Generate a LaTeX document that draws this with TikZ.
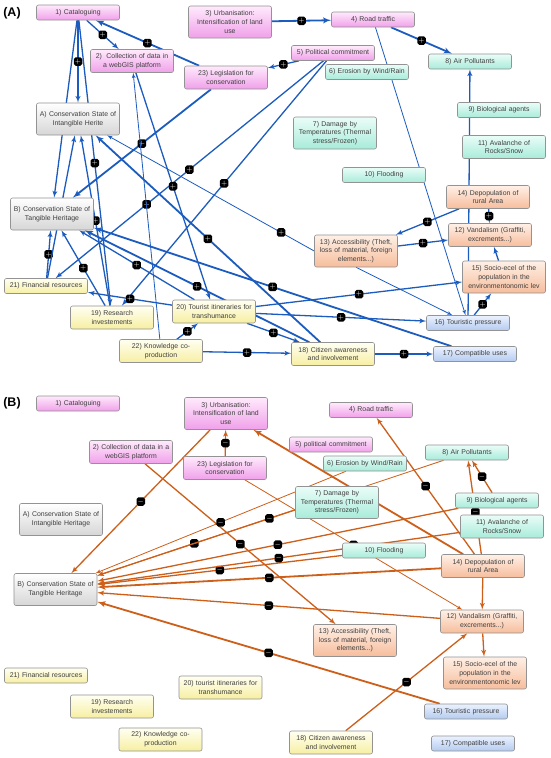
\documentclass[tikz,border=0pt]{standalone}
\usepackage{fontspec}
\setmainfont{Liberation Sans}
\usetikzlibrary{arrows,positioning}
\pgfdeclarelayer{edgelayer}
\pgfsetlayers{edgelayer,main}
\definecolor{bluelink}{RGB}{28,92,190}
\definecolor{orangelink}{RGB}{205,95,25}
\definecolor{pinktop}{HTML}{FFEAFC}
\definecolor{pinkbot}{HTML}{F0A0EA}
\definecolor{tealtop}{HTML}{EAFDF8}
\definecolor{tealbot}{HTML}{A8EBD9}
\definecolor{orangetop}{HTML}{FFF0E6}
\definecolor{orangebot}{HTML}{F6BD9C}
\definecolor{yellowtop}{HTML}{FFFFF2}
\definecolor{yellowbot}{HTML}{F7EFA2}
\definecolor{bluetop}{HTML}{EBF2FF}
\definecolor{bluebot}{HTML}{B4CBEF}
\definecolor{graytop}{HTML}{FFFFFF}
\definecolor{graybot}{HTML}{D6D6D6}
\tikzset{box/.style={draw=gray!85, line width=0.6pt, rounded corners=2pt, text centered, align=center, text width=80pt, inner xsep=1.5pt, inner ysep=2pt, minimum height=15pt, font=\fontsize{6.9}{8.7}\selectfont, text=black!75}}
\tikzset{two/.style={minimum height=23pt}, three/.style={minimum height=32pt}}
\tikzset{pinkbox/.style={box, top color=pinktop, bottom color=pinkbot}}
\tikzset{tealbox/.style={box, top color=tealtop, bottom color=tealbot}}
\tikzset{orangebox/.style={box, top color=orangetop, bottom color=orangebot}}
\tikzset{yellowbox/.style={box, top color=yellowtop, bottom color=yellowbot}}
\tikzset{bluebox/.style={box, top color=bluetop, bottom color=bluebot}}
\tikzset{graybox/.style={box, top color=graytop, bottom color=graybot}}
\tikzset{bline/.style={draw=bluelink, line width=1.3pt, -latex'}}
\tikzset{oline/.style={draw=orangelink, line width=1.3pt, -latex'}}
\tikzset{heavy/.style={line width=1.8pt}, light/.style={line width=0.8pt}}
\tikzset{signbox/.style={fill=black, rounded corners=1.8pt, minimum size=8.5pt, inner sep=0pt, text=white, font=\fontsize{7}{7}\selectfont\bfseries}}
\tikzset{tag/.style={font=\fontsize{12.5}{14}\selectfont\bfseries}}

\begin{document}
\begin{tikzpicture}[x=1pt, y=-1pt]
		\useasboundingbox (0,0) rectangle (550,758);

		% (A)
		\node [tag]						(tagA) at (12,13) {(A)};
		\node [pinkbox]					(a1) at (78,12.5) {1) Cataloguing};
		\node [pinkbox, three]			(a3) at (230,22) {3) Urbanisation:\\Intensification of land\\use};
		\node [pinkbox, two]			(a2) at (132,61) {2)\ \ Collection of data in\\a webGIS platform};
		\node [pinkbox, two]			(a23) at (226,77.5) {23) Legislation for\\conservation};
		\node [graybox, three]			(aA) at (78,119) {A) Conservation State of\\Intangible Herite};
		\node [pinkbox]					(a4) at (373,19.5) {4) Road traffic};
		\node [pinkbox]					(a5) at (333,53) {5) Political commitment};
		\node [tealbox]					(a6) at (367,72) {6) Erosion by Wind/Rain};
		\node [tealbox]					(a8) at (470,61.5) {8) Air Pollutants};
		\node [tealbox]					(a9) at (499,110) {9) Biological agents};
		\node [tealbox, three]			(a7) at (335,133) {7) Damage by\\Temperatures (Thermal\\stress/Frozen)};
		\node [tealbox, two]			(a11) at (504,147) {11) Avalanche of\\Rocks/Snow};
		\node [tealbox]					(a10) at (384,175) {10) Flooding};
		\node [orangebox, two]			(a14) at (488,197) {14) Depopulation of\\rural Area};
		\node [orangebox, two]			(a12) at (490,235) {12) Vandalism (Graffiti,\\excrements...)};
		\node [orangebox, three]		(a13) at (356,251) {13) Accessibility (Theft,\\loss of material, foreign\\elements...)};
		\node [orangebox, three]		(a15) at (504,277) {15) Socio-ecel of the\\population in the\\environmentonomic lev};
		\node [bluebox]					(a16) at (468,323) {16) Touristic pressure};
		\node [bluebox]					(a17) at (475,354) {17) Compatible uses};
		\node [yellowbox, two]			(a18) at (333,354) {18) Citizen awareness\\and involvement};
		\node [graybox, three]			(aB) at (52,214) {B) Conservation State of\\Tangible Heritage};
		\node [yellowbox]				(a21) at (46,286) {21) Financial resources};
		\node [yellowbox, two]			(a19) at (112,317.5) {19) Research\\investements};
		\node [yellowbox, two]			(a20) at (214,311.5) {20) Tourist itineraries for\\transhumance};
		\node [yellowbox, two]			(a22) at (161,351) {22) Knowledge co-\\production};

		% (B)
		\node [tag]						(tagB) at (12,403) {(B)};
		\node [pinkbox]					(b1) at (78,403.5) {1) Cataloguing};
		\node [pinkbox, three]			(b3) at (226,413.5) {3) Urbanisation:\\Intensification of land\\use};
		\node [pinkbox, two]			(b2) at (131,452) {2) Collection of data in a\\webGIS platform};
		\node [pinkbox, two]			(b23) at (225,468) {23) Legislation for\\conservation};
		\node [graybox, three]			(bA) at (61,519.5) {A) Conservation State of\\Intangible Heritage};
		\node [pinkbox]					(b4) at (371,410) {4) Road traffic};
		\node [pinkbox]					(b5) at (331,444.5) {5) political commitment};
		\node [tealbox]					(b6) at (365,463.5) {6) Erosion by Wind/Rain};
		\node [tealbox]					(b8) at (467,452.5) {8) Air Pollutants};
		\node [tealbox, three]			(b7) at (337,502.5) {7) Damage by\\Temperatures (Thermal\\stress/Frozen)};
		\node [tealbox]					(b9) at (497,500.5) {9) Biological agents};
		\node [tealbox, two]			(b11) at (502,526.5) {11) Avalanche of\\Rocks/Snow};
		\node [tealbox]					(b10) at (384,550.5) {10) Flooding};
		\node [orangebox, two]			(b14) at (483,566) {14) Depopulation of\\rural Area};
		\node [orangebox, two]			(b12) at (482,621.5) {12) Vandalism (Graffiti,\\excrements...)};
		\node [orangebox, three]		(b13) at (355,640.5) {13) Accessibility (Theft,\\loss of material, foreign\\elements...)};
		\node [orangebox, three]		(b15) at (485,673) {15) Socio-ecel of the\\population in the\\environmentonomic lev};
		\node [bluebox]					(b16) at (466,711.5) {16) Touristic pressure};
		\node [bluebox]					(b17) at (473,743.5) {17) Compatible uses};
		\node [yellowbox, two]			(b18) at (331,742.5) {18) Citizen awareness\\and involvement};
		\node [graybox, three]			(bB) at (55.5,589.5) {B) Conservation State of\\Tangible Heritage};
		\node [yellowbox]				(b21) at (46,675.5) {21) Financial resources};
		\node [yellowbox, two]			(b20) at (220.5,687.5) {20) tourist itineraries for\\transhumance};
		\node [yellowbox, two]			(b19) at (112,706.5) {19) Research\\investements};
		\node [yellowbox, two]			(b22) at (160.5,739.5) {22) Knowledge co-\\production};

		\begin{pgfonlayer}{edgelayer}
		\fill [white] (0,0) rectangle (550,758);

		\path [bline] (a1) -- node [signbox] {$+$} (a2);
		\path [bline, heavy] (a23) -- node [signbox] {$+$} (a1);
		\path [bline] (a1) -- node [signbox] {$+$} (aA);
		\path [bline, heavy] (a3) -- node [signbox] {$+$} (a4);
		\path [bline, heavy] (a4) -- node [signbox] {$+$} (a8);
		\path [bline] (a5) -- node [signbox] {$+$} (a23);
		\path [bline, light] (a4) -- node [signbox] {$+$} (a16);
		\path [bline, heavy] (a23) -- node [signbox] {$+$} (aB);
		\path [bline] (a5) -- node [signbox] {$+$} node [signbox, pos=0.66] {$+$} (a21);
		\path [bline] (a5) -- node [signbox] {$+$} (a19);
		\path [bline, light] (a13.west) -- node [signbox, pos=0.16] {$+$} (aA);
		\path [bline] (a14) -- node [signbox] {$+$} (a13);
		\path [bline] (a14) -- node [signbox] {$+$} (a12);
		\path [bline] (a13) -- node [signbox] {$+$} (a12);
		\path [bline] (a20) -- node [signbox] {$+$} (a15);
		\path [bline] (a16) -- node [signbox] {$+$} (a15);
		\path [bline] (a20) -- node [signbox] {$+$} (a16);
		\path [bline] (a18) -- node [signbox] {$+$} (a17);
		\path [bline] (a22) -- node [signbox] {$+$} (a18);
		\path [bline] (a15) -- (a12);
		\path [bline] (a16) -- (a8);
		\path [bline, light] (a13.south) -- (a16);
		\path [bline, light] (a22) -- (a2);
		\path [bline, heavy] (a17) -- node [signbox] {$+$} (aB);
		\path [bline] (a20) -- node [signbox] {$+$} (a18);
		\path [bline] (a22) -- node [signbox] {$+$} (a20);
		\path [bline, heavy] (a18) -- node [signbox] {$+$} (aB);
		\path [bline, heavy] (a18) -- node [signbox] {$+$} (aA);
		\path [bline] (a2) -- node [signbox] {$+$} (a20);
		\path [bline] (a1) -- (aB);
		\path [bline] (a21) -- node [signbox] {$+$} (aB);
		\path [bline] (a1) -- node [signbox] {$+$} (a19);
		\path [bline] (a19) -- node [signbox] {$+$} (aA);
		\path [bline] (a19) -- node [signbox] {$+$} (aB);
		\path [bline] (a20) -- node [signbox] {$+$} (aB);
		\path [bline] (a20) -- node [signbox] {$+$} (a21);
		\path [bline] (a21) -- (aA);

		\path [oline] (b23) -- node [signbox] {$-$} (b3);
		\path [oline] (b3) -- node [signbox] {$-$} (bB);
		\path [oline, heavy] (b14) -- (b3);
		\path [oline] (b14) -- node [signbox] {$-$} (b4);
		\path [oline] (b9) -- node [signbox] {$-$} (b8);
		\path [oline] (b14) -- node [signbox, pos=0.45] {$-$} (b8);
		\path [oline] (b2) -- node [signbox] {$-$} (b13);
		\path [oline] (b14) -- (b12);
		\path [oline] (b12) -- (b15);
		\path [oline] (b18) -- node [signbox] {$-$} (b12);
		\path [oline, heavy] (b16) -- node [signbox] {$-$} (bB);
		\path [oline] (b12) -- node [signbox] {$-$} (bB);
		\path [oline, heavy] (b14) -- node [signbox] {$-$} (bB);
		\path [oline] (b10) -- node [signbox] {$-$} (bB);
		\path [oline] (b11) -- node [signbox] {$-$} (bB);
		\path [oline] (b9) -- node [signbox] {$-$} (bB);
		\path [oline, light] (b8) -- node [signbox, pos=0.72] {$-$} (bB);
		\path [oline] (b7.190) -- node [signbox, pos=0.13] {$-$} (bB);
		\path [oline, light] (b6) -- node [signbox] {$-$} (bB);
		\path [oline, light] (b23) -- node [signbox] {$-$} (b12);
		\end{pgfonlayer}
	\end{tikzpicture}
\end{document}
